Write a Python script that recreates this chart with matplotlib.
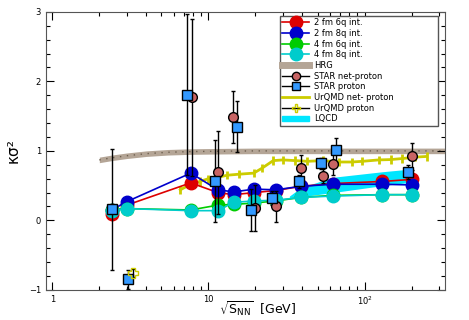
import numpy as np
import matplotlib.pyplot as plt
from matplotlib.patches import Patch
from matplotlib.lines import Line2D
from matplotlib.ticker import FixedLocator, FixedFormatter, MultipleLocator, LogLocator, NullFormatter

plt.rcParams['mathtext.default'] = 'regular'

# model energies and kappa*sigma^2
e_mod = [2.4, 3.0, 7.7, 11.5, 14.5, 19.6, 27, 39, 62.4, 130, 200]
red_6q2 = [0.09, 0.22, 0.54, 0.40, 0.37, 0.40, 0.43, 0.49, 0.53, 0.56, 0.59]
blue_8q2 = [0.15, 0.27, 0.68, 0.44, 0.41, 0.45, 0.44, 0.49, 0.52, 0.52, 0.51]
green_6q4 = [0.15, 0.17, 0.15, 0.22, 0.23, 0.25, 0.28, 0.33, 0.36, 0.37, 0.37]
cyan_8q4 = [0.14, 0.17, 0.14, 0.14, 0.26, 0.28, 0.29, 0.33, 0.35, 0.37, 0.37]

# STAR net-proton
e_np = [7.8, 11.5, 14.4, 19.9, 27.1, 39.0, 54.4, 62.5, 200]
k_np = [1.77, 0.69, 1.49, 0.18, 0.20, 0.75, 0.64, 0.81, 0.92]
err_np = [1.13, 0.60, 0.37, 0.33, 0.22, 0.19, 0.10, 0.15, 0.19]

# STAR proton
e_p = [2.41, 3.03, 7.25, 11.0, 15.2, 18.6, 25.5, 38.0, 52.6, 65.6, 190]
k_p = [0.16, -0.85, 1.81, 0.57, 1.35, 0.15, 0.32, 0.56, 0.82, 1.01, 0.70]
err_p = [0.87, 0.13, 1.16, 0.59, 0.37, 0.30, 0.10, 0.10, 0.08, 0.17, 0.10]

# HRG band
e_hrg = [2.0, 2.4, 3.0, 4.0, 5.5, 7.7, 11.5, 20, 50, 340]
k_hrg = [0.87, 0.90, 0.93, 0.96, 0.98, 0.99, 0.995, 1.0, 1.0, 1.0]
w_hrg = 0.04

# UrQMD net-proton
e_uq = [6.6, 7.7, 8.8, 10, 11.5, 13.2, 15.8, 19.5, 22, 26, 30, 36, 43, 54, 69, 83, 97, 123, 147, 175, 210, 250]
k_uq = [0.44, 0.52, 0.56, 0.60, 0.62, 0.65, 0.665, 0.68, 0.75, 0.86, 0.87, 0.86, 0.85, 0.86,
        0.84, 0.84, 0.85, 0.87, 0.875, 0.89, 0.91, 0.92]
err_uq = 0.06

# UrQMD proton
e_uqp = [3.28]
k_uqp = [-0.76]

# LQCD band
e_lq = [33, 39, 62.4, 130, 200]
lq_lo = [0.33, 0.34, 0.40, 0.50, 0.55]
lq_hi = [0.35, 0.47, 0.62, 0.70, 0.74]

yellow = '#cccc00'
fig = plt.figure(figsize=(4.69, 3.2), dpi=100)
ax = fig.add_axes([0.098, 0.094, 0.851, 0.869])

ax.fill_between(e_hrg, np.array(k_hrg) - w_hrg, np.array(k_hrg) + w_hrg, color='#b4a596', lw=0, zorder=1)
ax.plot(e_hrg, k_hrg, ls=(0, (1, 4)), color='#6e6050', lw=1, zorder=1.1)
ax.fill_between(e_lq, lq_lo, lq_hi, color='#00e6ff', lw=0, zorder=1.5)

ax.errorbar(e_uq, k_uq, yerr=err_uq, color=yellow, lw=2, elinewidth=2, capsize=0, zorder=2)

ms = 9
for y, c in [(red_6q2, '#dd0000'), (blue_8q2, '#0000cc'), (green_6q4, '#00cc00'), (cyan_8q4, '#00cccc')]:
    ax.plot(e_mod, y, '-o', color=c, ms=ms, lw=1.2, mec=c, zorder=3)

ax.errorbar(e_np, k_np, yerr=err_np, fmt='o', color='k', mfc='#c86464', mec='k', ms=7,
            elinewidth=1, capsize=1.5, zorder=4)
ax.errorbar(e_p, k_p, yerr=err_p, fmt='s', color='k', mfc='#3399ff', mec='k', ms=7,
            elinewidth=1, capsize=1.5, zorder=4)
ax.errorbar(e_uqp, k_uqp, yerr=0.06, fmt='P', color='k', mfc='none', mec=yellow, ms=7,
            elinewidth=1, capsize=1.5, zorder=4)

ax.set_xscale('log')
ax.set_xlim(0.91, 328)
ax.set_ylim(-1, 3)
ax.xaxis.set_major_locator(FixedLocator([1, 10, 100]))
ax.xaxis.set_major_formatter(FixedFormatter(['1', '10', r'$10^2$']))
ax.xaxis.set_minor_locator(LogLocator(subs=np.arange(2, 10)))
ax.xaxis.set_minor_formatter(NullFormatter())
ax.yaxis.set_major_locator(MultipleLocator(1))
ax.yaxis.set_minor_locator(MultipleLocator(0.2))
ax.tick_params(which='both', direction='in', top=True, right=True, labelsize=6, width=0.8)
ax.tick_params(which='major', length=6)
ax.tick_params(which='minor', length=3)
for s in ax.spines.values():
    s.set_color('#555555')

ax.set_ylabel('κσ²', fontsize=11, labelpad=6)
ax.set_xlabel(r'$\sqrt{S_{NN}}$  [GeV]', fontsize=9)
ax.xaxis.set_label_coords(0.53, -0.035)

handles = [
    Line2D([], [], color='#dd0000', marker='o', ms=ms, lw=1.2),
    Line2D([], [], color='#0000cc', marker='o', ms=ms, lw=1.2),
    Line2D([], [], color='#00cc00', marker='o', ms=ms, lw=1.2),
    Line2D([], [], color='#00cccc', marker='o', ms=ms, lw=1.2),
    Line2D([], [], color='#b4a596', lw=5),
    Line2D([], [], color='k', marker='o', mfc='#c86464', mec='k', ms=6, lw=1),
    Line2D([], [], color='k', marker='s', mfc='#3399ff', mec='k', ms=6, lw=1),
    Line2D([], [], color=yellow, lw=2),
    Line2D([], [], color='k', marker='P', mfc='none', mec=yellow, ms=6, lw=1),
    Patch(color='#00e6ff'),
]
labels = ['2 fm 6q int.', '2 fm 8q int.', '4 fm 6q int.', '4 fm 8q int.', 'HRG',
          'STAR net-proton', 'STAR proton', 'UrQMD net- proton', 'UrQMD proton', 'LQCD']
leg = ax.legend(handles, labels, loc='upper left', bbox_to_anchor=(0.586, 0.616, 0.396, 0.37),
                mode='expand', fontsize=6, frameon=True, fancybox=False, edgecolor='#555555',
                framealpha=1, handlelength=3.2, handleheight=0.6, labelspacing=0.2,
                borderpad=0.3, handletextpad=0.6, borderaxespad=0)
leg.get_frame().set_linewidth(1)

fig.savefig('out.png', dpi=100)
